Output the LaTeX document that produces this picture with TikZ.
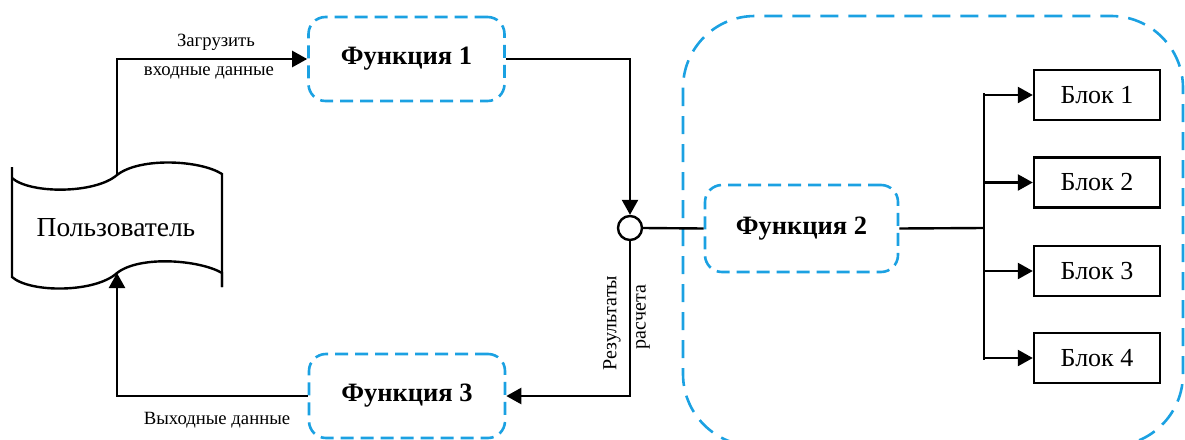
\documentclass[tikz,border=0pt]{standalone}
\usepackage{fontspec}
\setmainfont{Liberation Serif}
\usetikzlibrary{arrows.meta}
\definecolor{dashblue}{RGB}{27,161,226}
\tikzset{
  func/.style={draw=dashblue, line width=2.6pt, dash pattern=on 13pt off 7pt, rounded corners=17pt,
    minimum width=196pt, minimum height=84pt, font=\fontsize{26.5}{30}\selectfont\bfseries, inner sep=0pt},
  blok/.style={draw, line width=2.4pt, minimum width=126pt, minimum height=50pt, inner sep=0pt,
    font=\fontsize{26}{30}\selectfont},
  conn/.style={line width=2.4pt},
  arr/.style={conn, -{Triangle[length=15pt,width=16pt]}},
  lbl/.style={font=\fontsize{18.7}{22}\selectfont, inner sep=0pt}
}
\begin{document}
\begin{tikzpicture}[x=1pt,y=-1pt]
\useasboundingbox (0,0) rectangle (1185,439);
\clip (0,0) rectangle (1185,439);
% large container
\draw[dashblue, line width=2.6pt, dash pattern=on 18pt off 10pt, rounded corners=72pt]
  (683,16) rectangle (1183,446);
% user shape
\draw[conn] (12,167) -- (12,277)
  .. controls (30,293) and (95,293) .. (117,273)
  .. controls (140,255) and (200,260) .. (222,273) -- (222,287);
\draw[conn] (12,178) .. controls (30,194) and (95,194) .. (117,175)
  .. controls (140,157) and (200,160) .. (222,174) -- (222,287);
\node[font=\fontsize{27.5}{32}\selectfont, inner sep=0pt] (user) at (116,228) {Пользователь};
\coordinate (utop) at (117,175);
\coordinate (ubot) at (117,273);
% functions
\node[func] (f1) at (406.5,59) {Функция 1};
\node[func, minimum width=193pt, minimum height=87pt] (f2) at (801.5,228.5) {Функция 2};
\node[func] (f3) at (407,396) {Функция 3};
\node[draw, conn, circle, minimum size=24pt, inner sep=0pt] (c) at (630,228) {};
% blocks
\node[blok] (b1) at (1097,95) {Блок 1};
\node[blok] (b2) at (1097,182.5) {Блок 2};
\node[blok] (b3) at (1097,271) {Блок 3};
\node[blok] (b4) at (1097,358) {Блок 4};
% connectors
\draw[arr] (utop) |- (f1.west);
\draw[arr] (f1.east) -| (c.north);
\draw[conn] (c.east) -- (f2.west);
\draw[arr] (c.south) |- (f3.east);
\draw[arr] (f3.west) -| (ubot);
\coordinate (bus) at (984,228);
\coordinate (bt) at (984,93);
\coordinate (bb) at (984,360);
\draw[conn] (f2.east) -- (bus);
\draw[conn] (bt) -- (bb);
\draw[arr] (bt |- b1.west) -- (b1.west);
\draw[arr] (bt |- b2.west) -- (b2.west);
\draw[arr] (bt |- b3.west) -- (b3.west);
\draw[arr] (bt |- b4.west) -- (b4.west);
% labels
\node[lbl] (l1) at (216,42) {Загрузить};
\node[lbl] (l2) at (209,73) {входные данные};
\node[lbl] (l3) at (217,420) {Выходные данные};
\node[lbl, font=\fontsize{20}{23}\selectfont, rotate=90] (l4) at (612,323) {Результаты};
\node[lbl, font=\fontsize{20}{23}\selectfont, rotate=90] (l5) at (643,317) {расчета};
\end{tikzpicture}
\end{document}
